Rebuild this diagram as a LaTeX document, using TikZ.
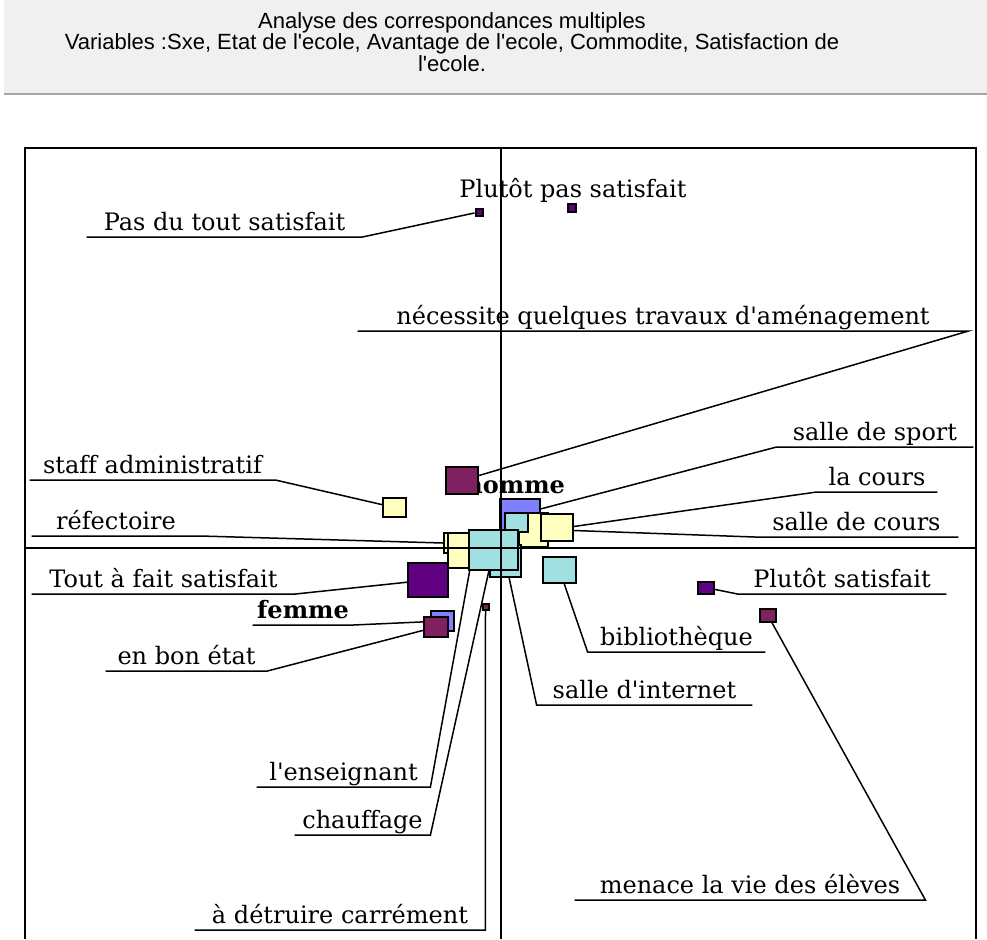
\documentclass[tikz,border=0pt]{standalone}
\usepackage{fontspec}
\setmainfont{DejaVu Serif}[Ligatures={TeXOff,CommonOff}]
\newfontfamily\titlefont{Liberation Sans}[Ligatures={TeXOff,CommonOff}]
\usetikzlibrary{calc}
\definecolor{satis}{RGB}{96,0,128}
\definecolor{etat}{RGB}{128,32,96}
\definecolor{sexe}{RGB}{128,128,255}
\definecolor{avant}{RGB}{255,255,192}
\definecolor{commod}{RGB}{160,224,224}
\definecolor{titlebg}{RGB}{240,240,240}
\pgfdeclarelayer{bg}
\pgfsetlayers{bg,main}
\tikzstyle{sq} = [draw, line width=1pt, inner sep=0pt]
\tikzstyle{lbl} = [inner xsep=0pt, inner ysep=3pt, text height=9pt, text depth=0pt,
	font=\fontsize{12}{14}\selectfont, anchor=south]
\tikzstyle{lead} = [line width=0.75pt]
\newcommand{\drawsq}[5]{\node[sq, fill=#2,
	minimum width=#4*0.5pt,
	minimum height=#5*0.5pt] (#1) at #3 {}}

\begin{document}
\begin{tikzpicture}[x=0.5pt, y=-0.5pt]
	\useasboundingbox (0,0) rectangle (987,939);
	% title bar
	\fill[titlebg] (4,0) rectangle (987,94);
	\draw[gray!70, line width=1pt] (4,94) -- (987,94);
	\node[font=\titlefont\fontsize{11}{10.8}\selectfont, align=center] (ttl) at (452,42)
		{Analyse des correspondances multiples\\
		Variables :Sxe, Etat de l'ecole, Avantage de l'ecole, Commodite, Satisfaction de\\
		l'ecole.};
	
	% points
	\node[font=\fontsize{12}{14}\selectfont\bfseries, anchor=base west, inner sep=0pt] (hom_l) at (465,493) {homme};
	\drawsq{nec}{etat}{(462,480.5)}{32}{27};
	\drawsq{hom}{sexe}{(520,516)}{40}{34};
	\drawsq{crs}{avant}{(533.5,530)}{29}{34};
	\drawsq{spt}{commod}{(516.5,522.5)}{23}{19};
	\drawsq{scr}{avant}{(557,527.5)}{32}{27};
	\drawsq{ref}{avant}{(457,543)}{26}{20};
	\drawsq{ens}{avant}{(458.5,550.5)}{21}{35};
	\drawsq{int}{commod}{(505.5,561)}{31}{32};
	\drawsq{chf}{commod}{(493.5,550)}{49}{40};
	\drawsq{bib}{commod}{(559.5,570)}{33}{26};
	\drawsq{taf}{satis}{(428,580)}{40}{34};
	\drawsq{sta}{avant}{(394.5,507.5)}{23}{19};
	\drawsq{pdt}{satis}{(479,212)}{7}{7};
	\drawsq{pps}{satis}{(572,208)}{8}{8};
	\drawsq{det}{etat}{(485.5,607)}{6}{6};
	\drawsq{fem}{sexe}{(442.5,621)}{23}{20};
	\drawsq{ebe}{etat}{(436,627)}{24}{20};
	\drawsq{ps}{satis}{(705.5,587.5)}{16}{12};
	\drawsq{men}{etat}{(768,615.5)}{16}{13};
	
	% frame and axes
	\draw[line width=1pt] (25,939) |- (976,148) -- (976,939);
	\draw[line width=0.8pt] (501,148) -- (501,939);
	\draw[line width=0.8pt] (25,548) -- (976,548);
	
	% labels
	\node[font=\fontsize{12}{14}\selectfont, anchor=base, inner sep=0pt] (pps_l) at (573,197) {Plutôt pas satisfait};
	\node[lbl, minimum width=275*0.5pt] (pdt_l) at (224.5,237) {Pas du tout satisfait};
	\node[lbl, minimum width=610*0.5pt] (nec_l) at (663,331) {nécessite quelques travaux d'aménagement};
	\node[lbl, minimum width=245*0.5pt] (sta_l) at (152.5,480) {staff administratif};
	\node[lbl, minimum width=168*0.5pt] (ref_l) at (116,536) {réfectoire};
	\node[lbl, minimum width=263*0.5pt] (taf_l) at (163.5,594) {Tout à fait satisfait};
	\node[lbl, minimum width=100*0.5pt, font=\fontsize{12}{14}\selectfont\bfseries] (fem_l) at (303,625) {femme};
	\node[lbl, minimum width=161*0.5pt] (ebe_l) at (186.5,671) {en bon état};
	\node[lbl, minimum width=173*0.5pt] (ens_l) at (343.5,787) {l'enseignant};
	\node[lbl, minimum width=135*0.5pt] (chf_l) at (362.5,835) {chauffage};
	\node[lbl, minimum width=290*0.5pt] (det_l) at (340,930) {à détruire carrément};
	\node[lbl, minimum width=215*0.5pt] (int_l) at (644.5,705) {salle d'internet};
	\node[lbl, minimum width=177*0.5pt] (bib_l) at (676.5,652) {bibliothèque};
	\node[lbl, minimum width=208*0.5pt] (ps_l) at (842,594) {Plutôt satisfait};
	\node[lbl, minimum width=350*0.5pt] (men_l) at (750,900) {menace la vie des élèves};
	\node[lbl, minimum width=203*0.5pt] (scr_l) at (856.5,537) {salle de cours};
	\node[lbl, minimum width=120*0.5pt] (crs_l) at (877,492) {la cours};
	\node[lbl, minimum width=196*0.5pt] (spt_l) at (875,447) {salle de sport};
	
	% leaders
	\begin{pgfonlayer}{bg}
		\draw[lead] (pdt) -- (pdt_l.south east) -- (pdt_l.south west);
		\draw[lead] (nec) -- (nec_l.south east) -- (nec_l.south west);
		\draw[lead] (sta) -- (sta_l.south east) -- (sta_l.south west);
		\draw[lead] (ref.west) -- (ref_l.south east) -- (ref_l.south west);
		\draw[lead] (taf) -- (taf_l.south east) -- (taf_l.south west);
		\draw[lead] (fem) -- (fem_l.south east) -- (fem_l.south west);
		\draw[lead] (ebe) -- (ebe_l.south east) -- (ebe_l.south west);
		\draw[lead] (ens.south east) -- (ens_l.south east) -- (ens_l.south west);
		\draw[lead] (chf) -- (chf_l.south east) -- (chf_l.south west);
		\draw[lead] (det) -- (det_l.south east) -- (det_l.south west);
		\draw[lead] (int) -- (int_l.south west) -- (int_l.south east);
		\draw[lead] (bib) -- (bib_l.south west) -- (bib_l.south east);
		\draw[lead] (ps) -- (ps_l.south west) -- (ps_l.south east);
		\draw[lead] (men) -- (men_l.south east) -- (men_l.south west);
		\draw[lead] ($(scr.east)+(0,3)$) -- (scr_l.south west) -- (scr_l.south east);
		\draw[lead] (crs.east) -- (crs_l.south west) -- (crs_l.south east);
		\draw[lead] (spt.north east) -- (spt_l.south west) -- (spt_l.south east);
	\end{pgfonlayer}
\end{tikzpicture}
\end{document}
